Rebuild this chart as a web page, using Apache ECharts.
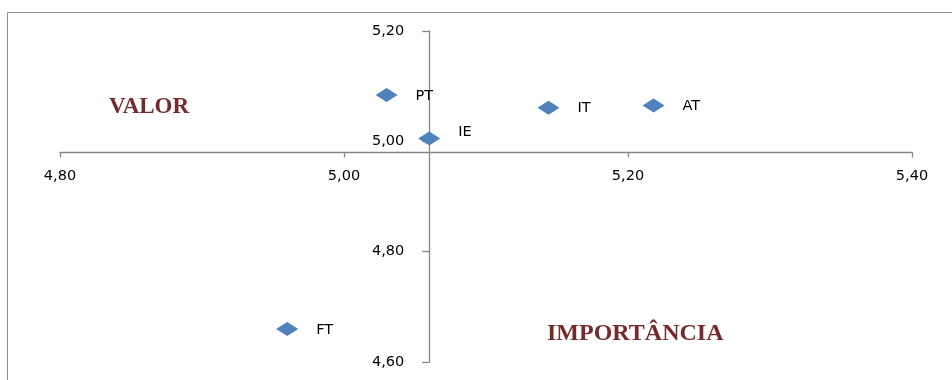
<!DOCTYPE html>
<html>
<head>
<meta charset="utf-8">
<script src="https://cdn.jsdelivr.net/npm/echarts@6/dist/echarts.min.js"></script>
<style>
  html, body { margin: 0; padding: 0; background: #fff; }
  #chart { width: 952px; height: 380px; }
</style>
</head>
<body>
<div id="chart"></div>
<script>
// Country codes and their scores on the two dimensions
const codes = ['PT', 'IE', 'IT', 'AT', 'FT'];
const importancia = [5.030, 5.060, 5.144, 5.218, 4.960];
const valor = [5.084, 5.005, 5.061, 5.065, 4.660];

// Axis ranges, tick spacing and where each axis crosses the other
const xRange = [4.80, 5.40];
const yRange = [4.60, 5.20];
const tickStep = 0.20;
const xCross = 5.06;   // x value where the vertical axis sits
const yCross = 4.98;   // y value where the horizontal axis sits

// Small label nudges so neighbouring labels stay readable
const labelNudge = { IE: [0, -6] };

const grid = { left: 60, right: 40, top: 31, bottom: 18 };
const gridW = 952 - grid.left - grid.right;
const gridH = 380 - grid.top - grid.bottom;

const fmt = v => v.toFixed(2).replace('.', ',');
const sansFont = '"DejaVu Sans", Verdana, sans-serif';
const axisGrey = '#868686';

const points = codes.map((c, i) => {
  const item = { name: c, value: [importancia[i], valor[i]] };
  if (labelNudge[c]) item.label = { offset: labelNudge[c] };
  return item;
});

const chart = echarts.init(document.getElementById('chart'));
chart.setOption({
  animation: false,
  backgroundColor: '#fff',
  grid: grid,
  xAxis: {
    type: 'value',
    min: xRange[0], max: xRange[1], interval: tickStep,
    position: 'bottom',
    offset: -((yCross - yRange[0]) / (yRange[1] - yRange[0])) * gridH,
    axisLine: { onZero: false, lineStyle: { color: axisGrey, width: 1.3 } },
    axisTick: { show: true, inside: false, length: 5, lineStyle: { color: axisGrey, width: 1.3 } },
    axisLabel: { formatter: fmt, margin: 16, color: '#000', fontSize: 14.5, fontFamily: sansFont,
                 showMinLabel: true, showMaxLabel: true },
    splitLine: { show: false }
  },
  yAxis: {
    type: 'value',
    min: yRange[0], max: yRange[1], interval: tickStep,
    position: 'left',
    offset: -((xCross - xRange[0]) / (xRange[1] - xRange[0])) * gridW,
    axisLine: { show: true, onZero: false, lineStyle: { color: axisGrey, width: 1.3 } },
    axisTick: { show: true, inside: false, length: 7, lineStyle: { color: axisGrey, width: 1.3 } },
    axisLabel: { formatter: fmt, margin: 25, color: '#000', fontSize: 14.5, fontFamily: sansFont,
                 showMinLabel: true, showMaxLabel: true },
    splitLine: { show: false }
  },
  series: [{
    type: 'scatter',
    symbol: 'diamond',
    symbolSize: [22, 14],
    itemStyle: { color: '#4F81BD', opacity: 1 },
    label: {
      show: true,
      position: 'right',
      distance: 18,
      offset: [0, 1],
      formatter: '{b}',
      color: '#000',
      fontSize: 14.5,
      fontFamily: sansFont
    },
    data: points
  }],
  graphic: [
    {
      type: 'rect', z: -1, silent: true,
      shape: { x: 7.5, y: 12.5, width: 1000, height: 500 },
      style: { fill: 'none', stroke: '#8c8c8c', lineWidth: 1 }
    },
    {
      type: 'text', silent: true,
      style: { text: 'VALOR', x: 109, y: 107.5, fill: '#762B2B',
               font: 'bold 23px "Liberation Serif", "Times New Roman", serif',
               textAlign: 'left', textVerticalAlign: 'middle' }
    },
    {
      type: 'text', silent: true,
      style: { text: 'IMPORTÂNCIA', x: 547, y: 334, fill: '#762B2B',
               font: 'bold 24px "Liberation Serif", "Times New Roman", serif',
               textAlign: 'left', textVerticalAlign: 'middle' }
    }
  ]
});
</script>
</body>
</html>
